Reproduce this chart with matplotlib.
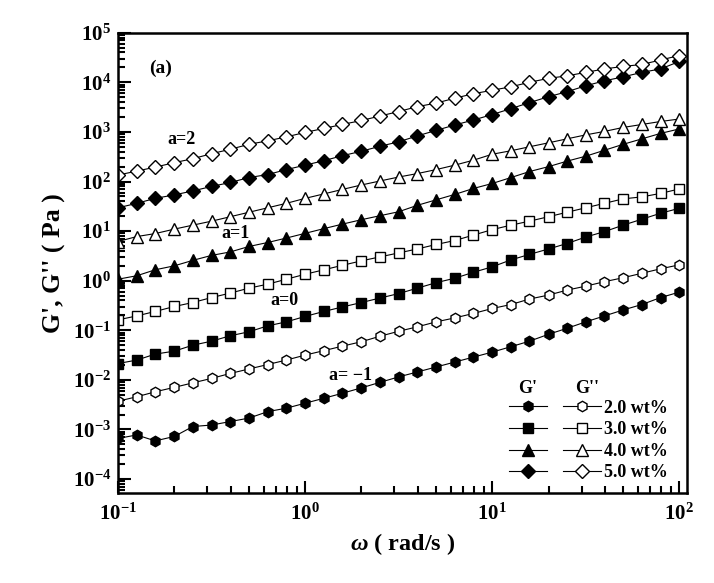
import numpy as np
import matplotlib.pyplot as plt
from matplotlib.ticker import LogLocator, NullFormatter

# fonts: Times-like bold everywhere
plt.rcParams['font.family'] = 'Liberation Serif'
plt.rcParams['font.weight'] = 'bold'
plt.rcParams['axes.labelweight'] = 'bold'
plt.rcParams['mathtext.fontset'] = 'custom'
plt.rcParams['mathtext.rm'] = 'Liberation Serif:bold'
plt.rcParams['mathtext.it'] = 'Liberation Serif:italic:bold'
plt.rcParams['mathtext.bf'] = 'Liberation Serif:bold'

# angular frequency (rad/s)
omega = [0.1, 0.126, 0.158, 0.2, 0.251, 0.316, 0.398, 0.501, 0.631, 0.794,
         1.0, 1.26, 1.58, 2.0, 2.51, 3.16, 3.98, 5.01, 6.31, 7.94,
         10.0, 12.6, 15.8, 20.0, 25.1, 31.6, 39.8, 50.1, 63.1, 79.4, 100.0]

# log10 of the moduli (Pa)
gp_2 = [-3.18, -3.11, -3.23, -3.14, -2.94, -2.91, -2.84, -2.77, -2.64, -2.57, -2.47,
        -2.37, -2.27, -2.16, -2.05, -1.94, -1.84, -1.74, -1.64, -1.54, -1.44,
        -1.33, -1.22, -1.08, -0.96, -0.83, -0.71, -0.59, -0.48, -0.34, -0.23]
gpp_2 = [-2.43, -2.34, -2.24, -2.15, -2.06, -1.97, -1.87, -1.78, -1.69, -1.60, -1.50,
         -1.41, -1.32, -1.23, -1.12, -1.02, -0.93, -0.83, -0.75, -0.66, -0.56,
         -0.48, -0.37, -0.29, -0.19, -0.11, -0.02, 0.06, 0.15, 0.24, 0.32]
gp_3 = [-1.67, -1.60, -1.48, -1.42, -1.30, -1.22, -1.11, -1.03, -0.91, -0.83, -0.72,
        -0.62, -0.53, -0.44, -0.35, -0.26, -0.15, -0.04, 0.05, 0.17, 0.28,
        0.42, 0.53, 0.64, 0.75, 0.88, 0.99, 1.12, 1.24, 1.36, 1.46]
gpp_3 = [-0.79, -0.71, -0.62, -0.52, -0.44, -0.34, -0.25, -0.15, -0.07, 0.03, 0.13,
         0.22, 0.31, 0.40, 0.48, 0.56, 0.64, 0.73, 0.81, 0.92, 1.03,
         1.12, 1.20, 1.29, 1.38, 1.47, 1.56, 1.65, 1.69, 1.76, 1.85]
gp_4 = [0.03, 0.10, 0.22, 0.30, 0.41, 0.51, 0.58, 0.69, 0.77, 0.86, 0.955,
        1.05, 1.14, 1.23, 1.31, 1.39, 1.52, 1.63, 1.74, 1.86, 1.96,
        2.08, 2.20, 2.30, 2.41, 2.51, 2.63, 2.75, 2.86, 2.97, 3.06]
gpp_4 = [0.79, 0.89, 0.95, 1.04, 1.12, 1.20, 1.29, 1.38, 1.47, 1.56, 1.66,
         1.75, 1.84, 1.93, 2.01, 2.09, 2.16, 2.24, 2.33, 2.43, 2.55,
         2.62, 2.70, 2.78, 2.86, 2.94, 3.01, 3.09, 3.15, 3.21, 3.26]
gp_5 = [1.47, 1.56, 1.66, 1.73, 1.81, 1.90, 1.98, 2.08, 2.14, 2.24, 2.33,
        2.42, 2.52, 2.61, 2.71, 2.80, 2.92, 3.03, 3.14, 3.24, 3.35,
        3.47, 3.59, 3.71, 3.81, 3.93, 4.03, 4.11, 4.20, 4.27, 4.42]
gpp_5 = [2.13, 2.21, 2.29, 2.38, 2.46, 2.56, 2.65, 2.75, 2.82, 2.90, 2.99,
         3.07, 3.15, 3.23, 3.32, 3.41, 3.51, 3.58, 3.68, 3.77, 3.84,
         3.91, 4.00, 4.08, 4.13, 4.20, 4.27, 4.32, 4.36, 4.45, 4.54]

conc_labels = ['2.0 wt%', '3.0 wt%', '4.0 wt%', '5.0 wt%']
gp_all = [gp_2, gp_3, gp_4, gp_5]
gpp_all = [gpp_2, gpp_3, gpp_4, gpp_5]
markers = ['h', 's', '^', 'D']
msizes = [7.5, 6.5, 8, 7]

fig = plt.figure(figsize=(7.14, 5.83), dpi=100)
ax = fig.add_axes([0.1653, 0.1544, 0.797, 0.7895])

gp_lines = []
gpp_lines = []
for gp, gpp, mk, ms in zip(gp_all, gpp_all, markers, msizes):
    l1, = ax.plot(omega, 10 ** np.array(gp), color='black', lw=0.8, marker=mk, ms=ms,
                  mfc='black', mec='black', mew=1.0)
    l2, = ax.plot(omega, 10 ** np.array(gpp), color='black', lw=0.8, marker=mk, ms=ms,
                  mfc='white', mec='black', mew=1.0)
    gp_lines.append(l1)
    gpp_lines.append(l2)

ax.set_xscale('log')
ax.set_yscale('log')
ax.set_xlim(0.1, 110)
ax.set_ylim(10 ** -4.28, 1e5)

ax.xaxis.set_major_locator(LogLocator(base=10, numticks=20))
ax.xaxis.set_minor_locator(LogLocator(base=10, subs=np.arange(2, 10), numticks=50))
ax.yaxis.set_major_locator(LogLocator(base=10, numticks=20))
ax.yaxis.set_minor_locator(LogLocator(base=10, subs=np.arange(2, 10), numticks=100))
ax.xaxis.set_minor_formatter(NullFormatter())
ax.yaxis.set_minor_formatter(NullFormatter())

ax.tick_params(which='both', direction='in', top=False, right=False, width=1.5, labelsize=15)
ax.tick_params(which='major', length=9)
ax.tick_params(which='minor', length=5)
ax.tick_params(axis='x', pad=8)
ax.tick_params(axis='y', pad=5)
for s in ax.spines.values():
    s.set_linewidth(1.8)

ax.set_xlabel(r"$\omega$" + " ( rad/s )", fontsize=17.5, labelpad=4)
ax.set_ylabel("G', G'' ( Pa )", fontsize=18.5, labelpad=5)

# annotations
ax.text(0.074, 0.923, "(a)", transform=ax.transAxes, fontsize=14, ha='center', va='center')
ax.text(0.111, 0.767, "a=2", transform=ax.transAxes, fontsize=13, ha='center', va='center')
ax.text(0.206, 0.563, "a=1", transform=ax.transAxes, fontsize=13, ha='center', va='center')
ax.text(0.292, 0.419, "a=0", transform=ax.transAxes, fontsize=13, ha='center', va='center')
ax.text(0.408, 0.256, "a= \u22121", transform=ax.transAxes, fontsize=13, ha='center', va='center')

# legend: G' column (no text) + G'' column with concentrations
leg = ax.legend(gp_lines + gpp_lines, [' '] * 4 + conc_labels, ncol=2, frameon=False,
                loc='lower right', bbox_to_anchor=(0.995, -0.01), fontsize=13,
                handlelength=2.1, handletextpad=0.2, columnspacing=0.4,
                labelspacing=0.25, numpoints=1)
ax.text(0.719, 0.228, "G'", transform=ax.transAxes, fontsize=13, ha='center', va='center')
ax.text(0.824, 0.228, "G''", transform=ax.transAxes, fontsize=13, ha='center', va='center')

plt.savefig("out.png", dpi=100)
